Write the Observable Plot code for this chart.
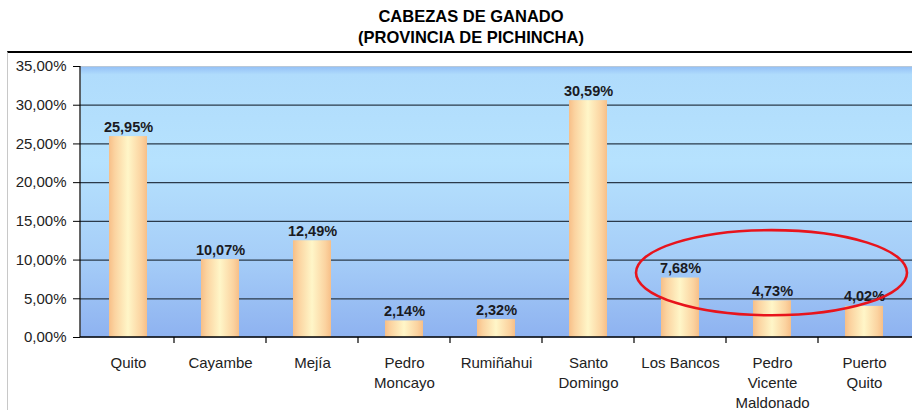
<!DOCTYPE html>
<html>
<head>
<meta charset="utf-8">
<script src="https://cdn.jsdelivr.net/npm/d3@7"></script>
<script src="https://cdn.jsdelivr.net/npm/@observablehq/plot@0.6"></script>
<style>
  html, body { margin: 0; padding: 0; background: #fff; width: 912px; height: 410px; overflow: hidden; }
  body { position: relative; font-family: "Liberation Sans", Arial, sans-serif; }
  #title { position: absolute; left: 30px; top: 6px; width: 882px; text-align: center;
    font-weight: bold; font-size: 16.5px; line-height: 21px; color: #000; }
  #chart { position: absolute; left: 7px; top: 51px; width: 905px; height: 359px;
    border-top: 2px solid #000; border-left: 1px solid #c8c8c8; }
  #chart svg { display: block; overflow: hidden; }
</style>
</head>
<body>
<div id="title">CABEZAS DE GANADO<br>(PROVINCIA DE PICHINCHA)</div>
<div id="chart"></div>
<script>
const categories = ["Quito", "Cayambe", "Mejía", "Pedro\nMoncayo", "Rumiñahui", "Santo\nDomingo", "Los Bancos", "Pedro\nVicente\nMaldonado", "Puerto\nQuito"];
const shares = [25.95, 10.07, 12.49, 2.14, 2.32, 30.59, 7.68, 4.73, 4.02];
const yTicks = [0, 5, 10, 15, 20, 25, 30, 35];
const highlightFrom = "Los Bancos";
const highlightTo = "Puerto\nQuito";
const highlightLow = 2.8;
const highlightHigh = 13.8;

const data = categories.map((c, i) => ({category: c, value: shares[i]}));
const fmt = v => v.toFixed(2).replace(".", ",") + "%";

function decorations(index, scales, values, dimensions) {
  const g = d3.create("svg:g");
  const x = scales.x, y = scales.y;
  const step = x.step();
  const bw = x.bandwidth();
  const y0 = y(0);
  const half = (step - bw) / 2;
  const bounds = categories.slice(1).map(c => x(c) - half);
  bounds.forEach(b => {
    g.append("line").attr("x1", b).attr("x2", b).attr("y1", y0).attr("y2", y0 + 6)
      .attr("stroke", "#000").attr("stroke-width", 1.2);
  });
  const left = x(highlightFrom) - half + 2;
  const right = x(highlightTo) + bw + half - 3;
  const top = y(highlightHigh), bottom = y(highlightLow);
  g.append("ellipse")
    .attr("cx", (left + right) / 2).attr("cy", (top + bottom) / 2)
    .attr("rx", (right - left) / 2).attr("ry", (bottom - top) / 2)
    .attr("fill", "none").attr("stroke", "#e8141c").attr("stroke-width", 2.6);
  return g.node();
}

const svg = Plot.plot({
  width: 905,
  height: 357,
  marginLeft: 72,
  marginRight: 0,
  marginTop: 13,
  marginBottom: 73,
  style: {fontFamily: "'Liberation Sans', Arial, sans-serif", fontSize: "15px", color: "#222", background: "transparent"},
  x: {domain: categories, range: [70.5, 906], paddingInner: 0.59, paddingOuter: 0.295, label: null},
  y: {domain: [0, 35], label: null},
  marks: [
    Plot.frame({fill: "url(#bgGrad)", stroke: null}),
    Plot.ruleY(yTicks.filter(t => t > 0 && t < 35), {stroke: "#2a3a4a", strokeWidth: 1.2}),
    Plot.ruleY([35], {stroke: "#b8c8d8", strokeWidth: 1}),
    Plot.barY(data, {x: "category", y: "value", fill: "url(#barGrad)"}),
    Plot.text(data, {x: "category", y: "value", text: d => fmt(d.value), lineAnchor: "bottom", dy: -5,
      fontWeight: "bold", fontSize: 14.5, fill: "#1a1a22"}),
    Plot.axisY({ticks: yTicks, tickFormat: fmt, tickSize: 7, tickPadding: 7, stroke: "#000", fill: "#222"}),
    Plot.axisX({tickSize: 0, tickPadding: 16, lineHeight: 1.33, fill: "#222"}),
    decorations
  ]
});

const defs = d3.select(svg).insert("defs", ":first-child");
const bg = defs.append("linearGradient").attr("id", "bgGrad").attr("x1", 0).attr("y1", 0).attr("x2", 0).attr("y2", 1);
[[0, "#94c0f6"], [0.03, "#b0dcfc"], [0.35, "#b6e2fe"], [0.7, "#a6cef8"], [1, "#8eb2f0"]].forEach(([o, c]) =>
  bg.append("stop").attr("offset", o).attr("stop-color", c));
const bar = defs.append("linearGradient").attr("id", "barGrad").attr("x1", 0).attr("y1", 0).attr("x2", 1).attr("y2", 0);
[[0, "#f7bf88"], [0.15, "#fbd3a0"], [0.5, "#fff6c8"], [0.85, "#fbd3a0"], [1, "#f7bf88"]].forEach(([o, c]) =>
  bar.append("stop").attr("offset", o).attr("stop-color", c));

const sy = svg.scale("y");
const g = d3.select(svg).append("g");
g.append("line").attr("x1", 72).attr("x2", 72).attr("y1", sy.apply(35)).attr("y2", sy.apply(0)).attr("stroke", "#000").attr("stroke-width", 1.2);
g.append("line").attr("x1", 72).attr("x2", 905).attr("y1", sy.apply(0)).attr("y2", sy.apply(0)).attr("stroke", "#000").attr("stroke-width", 1.5);

document.getElementById("chart").appendChild(svg);
</script>
</body>
</html>
